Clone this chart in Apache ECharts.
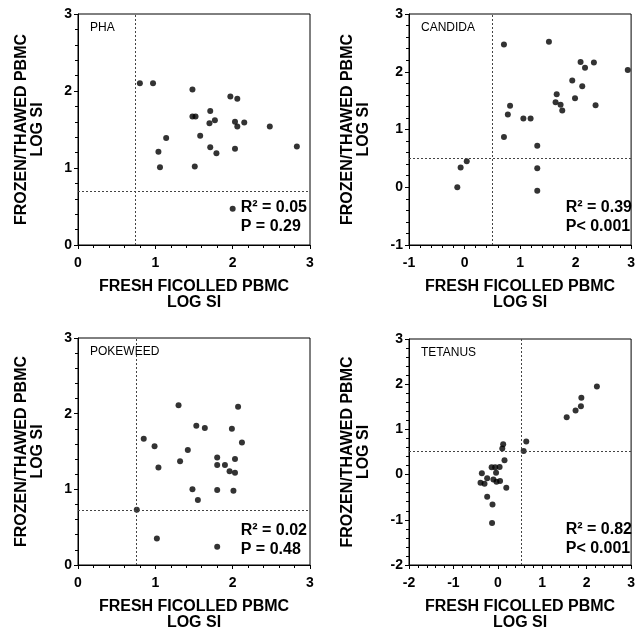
<!DOCTYPE html>
<html>
<head>
<meta charset="utf-8">
<script src="https://cdn.jsdelivr.net/npm/echarts@6/dist/echarts.min.js"></script>
<style>
  html, body { margin: 0; padding: 0; background: #fff; }
  #main { width: 638px; height: 632px; }
</style>
</head>
<body>
<div id="main"></div>
<script>
// points: [fresh log SI, frozen log SI]
var phaPoints = [
  [0.80, 2.10], [0.97, 2.10], [1.48, 2.02], [1.97, 1.93], [2.06, 1.90],
  [1.71, 1.74], [1.48, 1.67], [1.52, 1.67], [1.77, 1.62], [1.70, 1.58],
  [2.03, 1.60], [2.06, 1.54], [2.15, 1.59], [2.48, 1.54], [1.58, 1.42],
  [1.14, 1.39], [1.71, 1.27], [1.79, 1.19], [2.03, 1.25], [1.04, 1.21],
  [2.83, 1.28], [1.06, 1.01], [1.51, 1.02], [2.00, 0.47]
];
var candidaPoints = [
  [-0.13, 0.00], [-0.07, 0.34], [0.04, 0.45], [0.71, 2.47], [0.71, 0.87],
  [0.78, 1.26], [0.82, 1.41], [1.06, 1.19], [1.19, 1.19], [1.31, 0.72],
  [1.31, 0.33], [1.31, -0.06], [1.52, 2.52], [1.66, 1.61], [1.64, 1.47],
  [1.73, 1.43], [1.76, 1.33], [1.94, 1.85], [1.99, 1.54], [2.09, 2.17],
  [2.17, 2.07], [2.12, 1.75], [2.33, 2.16], [2.36, 1.42], [2.94, 2.03]
];
var pokeweedPoints = [
  [1.30, 2.11], [2.07, 2.09], [1.53, 1.84], [1.64, 1.81], [1.99, 1.80],
  [0.85, 1.67], [2.12, 1.62], [0.99, 1.57], [1.42, 1.52], [1.80, 1.42],
  [2.03, 1.40], [1.32, 1.37], [1.80, 1.32], [1.90, 1.32], [1.04, 1.29],
  [1.96, 1.24], [2.03, 1.22], [1.48, 1.00], [1.80, 0.99], [2.01, 0.98],
  [1.55, 0.86], [0.76, 0.73], [1.02, 0.35], [1.80, 0.24]
];
var tetanusPoints = [
  [2.23, 1.95], [1.88, 1.70], [1.87, 1.51], [1.75, 1.42], [1.55, 1.27],
  [0.64, 0.73], [0.58, 0.52], [0.12, 0.67], [0.10, 0.58], [0.15, 0.32],
  [0.04, 0.17], [-0.14, 0.16], [-0.06, 0.16], [-0.36, 0.03], [-0.04, 0.04],
  [-0.24, -0.08], [-0.10, -0.11], [-0.39, -0.18], [-0.30, -0.20], [-0.03, -0.16],
  [0.05, -0.14], [0.19, -0.29], [-0.24, -0.49], [-0.12, -0.66], [-0.13, -1.07]
];

var panelNames = ['PHA', 'CANDIDA', 'POKEWEED', 'TETANUS'];
var xRanges = [[0, 3], [-1, 3], [0, 3], [-2, 3]];
var yRanges = [[0, 3], [-1, 3], [0, 3], [-2, 3]];
var refX = [0.74, 0.5, 0.75, 0.52];
var refY = [0.70, 0.5, 0.72, 0.51];
var r2Labels = ['R\u00B2 = 0.05', 'R\u00B2 = 0.39', 'R\u00B2 = 0.02', 'R\u00B2 = 0.82'];
var pLabels = ['P = 0.29', 'P< 0.001', 'P = 0.48', 'P< 0.001'];

var allPoints = [phaPoints, candidaPoints, pokeweedPoints, tetanusPoints];

var grids = [
  { left: 78, top: 14, width: 232, height: 231 },
  { left: 409, top: 14, width: 226, height: 231 },
  { left: 78, top: 338, width: 232, height: 230 },
  { left: 409, top: 339, width: 226, height: 228 }
];
var yNameGap = [32, 37, 32, 37];

var FONT = '"Liberation Sans", Arial, sans-serif';

var myChart = echarts.init(document.getElementById('main'));

var option = {
  backgroundColor: '#fff',
  animation: false,
  textStyle: { fontFamily: FONT },
  grid: [],
  xAxis: [],
  yAxis: [],
  series: [],
  graphic: []
};

function makeAxis(i, range, isX) {
  var ax = {
    gridIndex: i,
    type: 'value',
    min: range[0],
    max: range[1],
    interval: 1,
    name: isX ? 'FRESH FICOLLED PBMC\nLOG SI' : 'FROZEN/THAWED PBMC\nLOG SI',
    nameLocation: 'middle',
    nameGap: isX ? 34 : yNameGap[i],
    nameTextStyle: { color: '#000', fontWeight: 'bold', fontSize: 16, lineHeight: 16, fontFamily: FONT },
    axisLine: { show: true, onZero: false, lineStyle: { color: '#000', width: 1 } },
    axisTick: { show: true, inside: false, length: 4, lineStyle: { color: '#000' } },
    minorTick: { show: true, splitNumber: 5, length: 3, lineStyle: { color: '#000' } },
    splitLine: { show: false },
    axisLabel: { color: '#000', fontWeight: 'bold', fontSize: 14, fontFamily: FONT, margin: isX ? 11 : 6 }
  };
  if (!isX) ax.nameRotate = 90;
  return ax;
}

for (var i = 0; i < 4; i++) {
  var g = grids[i];
  option.grid.push({
    left: g.left, top: g.top, width: g.width, height: g.height,
    show: true, borderColor: '#000', borderWidth: 1, backgroundColor: 'transparent'
  });
  option.xAxis.push(makeAxis(i, xRanges[i], true));
  option.yAxis.push(makeAxis(i, yRanges[i], false));
  option.series.push({
    type: 'scatter',
    xAxisIndex: i,
    yAxisIndex: i,
    data: allPoints[i],
    symbol: 'circle',
    symbolSize: 6,
    itemStyle: { color: '#000' },
    markLine: {
      silent: true,
      symbol: 'none',
      label: { show: false },
      lineStyle: { color: '#444', type: [2, 2], width: 1 },
      data: [{ xAxis: refX[i] }, { yAxis: refY[i] }]
    }
  });
  // panel label, top-left
  option.graphic.push({
    type: 'text',
    left: g.left + 12,
    top: g.top + 8,
    style: { text: panelNames[i], fill: '#000', font: '12px ' + FONT }
  });
  // R2 / P, bottom-right
  option.graphic.push({
    type: 'text',
    right: 638 - (g.left + g.width) + 3,
    top: g.top + g.height - 47,
    style: {
      text: r2Labels[i] + '\n' + pLabels[i],
      fill: '#000',
      font: 'bold 16px ' + FONT,
      lineHeight: 19,
      align: 'right'
    }
  });
}

myChart.setOption(option);
</script>
</body>
</html>
